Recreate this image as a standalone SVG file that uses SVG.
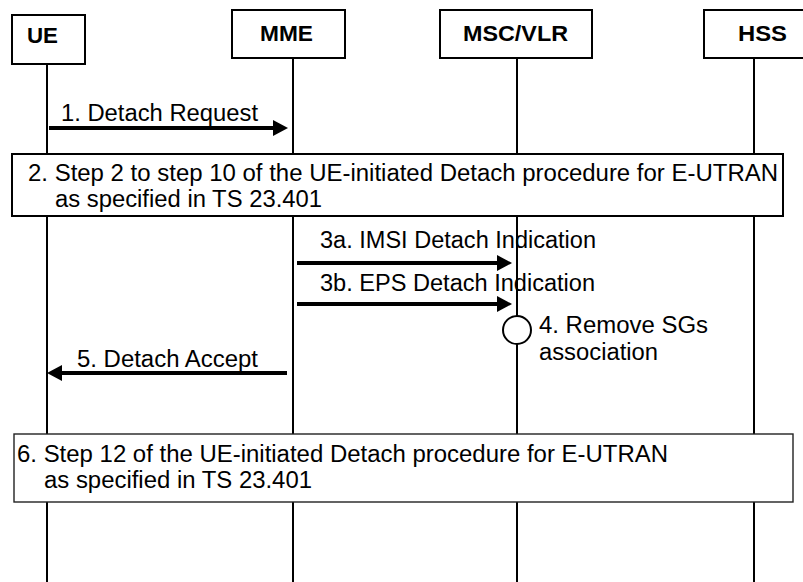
<svg xmlns="http://www.w3.org/2000/svg" width="803" height="582" viewBox="0 0 803 582">
<style>
.box{fill:#fff;stroke:#000;stroke-width:2}
.life{stroke:#000;stroke-width:2;fill:none}
.msg{stroke:#000;stroke-width:4;fill:none;marker-end:url(#ah)}
.hdr{font-family:"Liberation Sans",Arial,sans-serif;font-weight:bold;font-size:22px;fill:#000}
.t{font-family:"Liberation Sans",Arial,sans-serif;font-size:23px;fill:#000}
</style>
<defs>
<marker id="ah" markerUnits="userSpaceOnUse" markerWidth="16" markerHeight="16" refX="5" refY="8" orient="auto">
<path d="M0,0 L15,8 L0,16 z" fill="#000"/>
</marker>
</defs>
<rect width="803" height="582" fill="#fff"/>
<g id="lifelines">
<line class="life" x1="47" y1="64" x2="47" y2="582"/>
<line class="life" x1="293" y1="58" x2="293" y2="582"/>
<line class="life" x1="517" y1="58" x2="517" y2="582"/>
<line class="life" x1="754" y1="58" x2="754" y2="582"/>
</g>
<g id="ue">
<rect class="box" x="12" y="15" width="73" height="49"/>
<text class="hdr" x="27" y="43" textLength="31" lengthAdjust="spacingAndGlyphs">UE</text>
</g>
<g id="mme">
<rect class="box" x="232" y="10" width="113" height="48"/>
<text class="hdr" x="260" y="41" textLength="53" lengthAdjust="spacingAndGlyphs">MME</text>
</g>
<g id="mscvlr">
<rect class="box" x="440" y="10" width="152" height="48"/>
<text class="hdr" x="463" y="41" textLength="105" lengthAdjust="spacingAndGlyphs">MSC/VLR</text>
</g>
<g id="hss">
<rect class="box" x="704" y="10" width="104" height="48"/>
<text class="hdr" x="738" y="41" textLength="49" lengthAdjust="spacingAndGlyphs">HSS</text>
</g>
<g id="step2">
<rect class="box" x="12" y="154" width="771" height="62"/>
<text class="t" x="28" y="181" textLength="750" lengthAdjust="spacingAndGlyphs">2. Step 2 to step 10 of the UE-initiated Detach procedure for E-UTRAN</text>
<text class="t" x="55" y="207" textLength="267" lengthAdjust="spacingAndGlyphs">as specified in TS 23.401</text>
</g>
<g id="step4">
<circle cx="517" cy="330" r="14" fill="#fff" stroke="#000" stroke-width="2"/>
<text class="t" x="539" y="333" textLength="169" lengthAdjust="spacingAndGlyphs">4. Remove SGs</text>
<text class="t" x="539" y="360" textLength="119" lengthAdjust="spacingAndGlyphs">association</text>
</g>
<g id="step6">
<rect x="14" y="434" width="779" height="68" fill="#fff" stroke="#222" stroke-width="1.4"/>
<text class="t" x="17" y="462" textLength="651" lengthAdjust="spacingAndGlyphs">6. Step 12 of the UE-initiated Detach procedure for E-UTRAN</text>
<text class="t" x="44" y="488" textLength="268" lengthAdjust="spacingAndGlyphs">as specified in TS 23.401</text>
</g>
<g id="connectors">
<line class="msg" x1="49" y1="128" x2="278" y2="128"/>
<text class="t" x="61" y="121" textLength="197" lengthAdjust="spacingAndGlyphs">1. Detach Request</text>
<line class="msg" x1="297" y1="263" x2="502" y2="263"/>
<text class="t" x="320" y="248" textLength="276" lengthAdjust="spacingAndGlyphs">3a. IMSI Detach Indication</text>
<line class="msg" x1="297" y1="304" x2="502" y2="304"/>
<text class="t" x="320" y="291" textLength="275" lengthAdjust="spacingAndGlyphs">3b. EPS Detach Indication</text>
<line class="msg" x1="287" y1="373" x2="57" y2="373"/>
<text class="t" x="77" y="367" textLength="181" lengthAdjust="spacingAndGlyphs">5. Detach Accept</text>
</g>
</svg>
